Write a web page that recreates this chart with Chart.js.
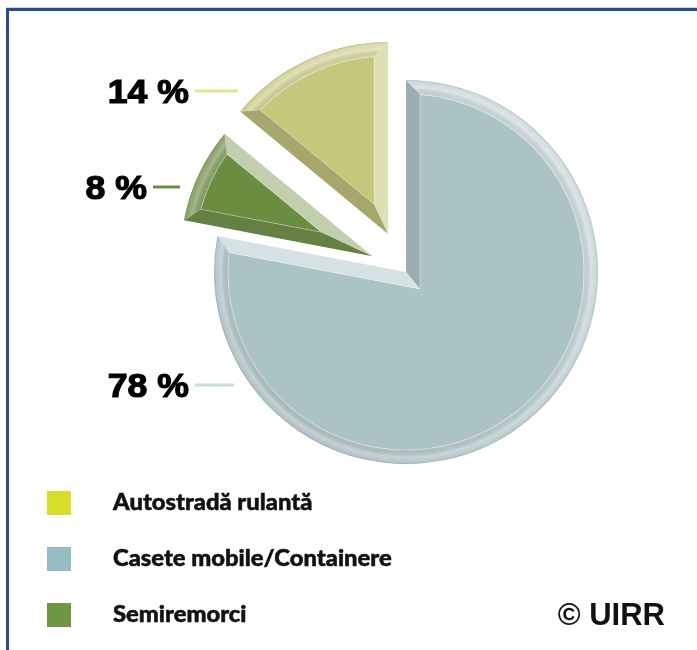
<!DOCTYPE html>
<html lang="ro">
<head>
<meta charset="utf-8">
<title>Transport combinat UIRR</title>
<script src="https://cdn.jsdelivr.net/npm/chart.js@4.4.1/dist/chart.umd.min.js"></script>
<style>
  html, body { margin: 0; padding: 0; background: #fff; }
  body { width: 697px; height: 650px; position: relative; overflow: hidden; }
  .frame {
    position: absolute; left: 6px; top: 8px; width: 740px; height: 700px;
    border: 3px solid #2b4a8f; box-shadow: 0 -1px 0 #d3d7df;
  }
  #pie { position: absolute; left: 0; top: 0; }
</style>
</head>
<body>
<div class="frame"></div>
<canvas id="pie" width="697" height="650"></canvas>
<script>
// date
const labels = ["Autostradă rulantă", "Casete mobile/Containere", "Semiremorci"];
const shares = [14, 78, 8];
const sliceColors = ["#c6c77a", "#abc3c6", "#6b8d40"];
const legendColors = ["#d6dd2b", "#95bcc2", "#6f9545"];
const leaderColors = ["#e6e78c", "#c8dedd", "#6b8d40"];

// unde stau etichetele procentuale (capătul liniei)
const calloutEnd = [[238, 91], [234, 385], [180, 187]];
const calloutLen = [43, 39, 27];

const LIGHT = [0.707, -0.707]; // lumina din dreapta-sus
const BEVEL = 14;

function hexToRgb(hex) {
  const n = parseInt(hex.slice(1), 16);
  return [(n >> 16) & 255, (n >> 8) & 255, n & 255];
}
function mix(c, t, to) {
  return c.map((v, i) => Math.round(v + (to[i] - v) * t));
}
function shade(rgb, nx, ny, lift, up, down) {
  const dot = nx * LIGHT[0] + ny * LIGHT[1];
  let c = mix(rgb, lift, [255, 255, 255]);
  c = dot > 0 ? mix(c, dot * up, [255, 255, 255]) : mix(c, -dot * down, [0, 0, 0]);
  return `rgb(${c.join(",")})`;
}

// felie cu margini teșite
function drawBevelSlice(ctx, cx, cy, r, a1, a2, color) {
  const rgb = hexToRgb(color);
  const b = BEVEL;
  const theta = a2 - a1;
  const mid = (a1 + a2) / 2;
  const d = b / Math.sin(theta / 2);
  const P = [cx + d * Math.cos(mid), cy + d * Math.sin(mid)];
  const ri = r - b;
  const delta = Math.asin(b / ri);
  const I1 = [cx + ri * Math.cos(a1 + delta), cy + ri * Math.sin(a1 + delta)];
  const I2 = [cx + ri * Math.cos(a2 - delta), cy + ri * Math.sin(a2 - delta)];
  const O1 = [cx + r * Math.cos(a1), cy + r * Math.sin(a1)];
  const O2 = [cx + r * Math.cos(a2), cy + r * Math.sin(a2)];

  ctx.save();

  // fața interioară
  ctx.beginPath();
  ctx.moveTo(P[0], P[1]);
  ctx.lineTo(I1[0], I1[1]);
  ctx.arc(cx, cy, ri, a1 + delta, a2 - delta);
  ctx.closePath();
  ctx.fillStyle = color;
  ctx.fill();

  // marginea de start
  const n1 = a1 - Math.PI / 2;
  ctx.beginPath();
  ctx.moveTo(cx, cy);
  ctx.lineTo(O1[0], O1[1]);
  ctx.lineTo(I1[0], I1[1]);
  ctx.lineTo(P[0], P[1]);
  ctx.closePath();
  ctx.fillStyle = shade(rgb, Math.cos(n1), Math.sin(n1), 0.08, 0.55, 0.18);
  ctx.fill();

  // marginea de sfârșit
  const n2 = a2 + Math.PI / 2;
  ctx.beginPath();
  ctx.moveTo(cx, cy);
  ctx.lineTo(P[0], P[1]);
  ctx.lineTo(I2[0], I2[1]);
  ctx.lineTo(O2[0], O2[1]);
  ctx.closePath();
  ctx.fillStyle = shade(rgb, Math.cos(n2), Math.sin(n2), 0.08, 0.55, 0.18);
  ctx.fill();

  // bordura exterioară
  ctx.beginPath();
  ctx.arc(cx, cy, r, a1, a2);
  ctx.lineTo(I2[0], I2[1]);
  ctx.arc(cx, cy, ri, a2 - delta, a1 + delta, true);
  ctx.closePath();
  const conic = ctx.createConicGradient(0, cx, cy);
  for (let k = 0; k <= 36; k++) {
    const phi = (k / 36) * Math.PI * 2;
    conic.addColorStop(k / 36, shade(rgb, Math.cos(phi), Math.sin(phi), 0.24, 0.3, 0.06));
  }
  ctx.fillStyle = conic;
  ctx.fill();
  const radial = ctx.createRadialGradient(cx, cy, ri, cx, cy, r);
  radial.addColorStop(0, "rgba(0,0,0,0.04)");
  radial.addColorStop(0.5, "rgba(255,255,255,0.22)");
  radial.addColorStop(0.8, "rgba(255,255,255,0.02)");
  radial.addColorStop(1, "rgba(0,0,0,0.14)");
  ctx.fillStyle = radial;
  ctx.fill();

  // linia de muchie interioară
  ctx.beginPath();
  ctx.moveTo(P[0], P[1]);
  ctx.lineTo(I1[0], I1[1]);
  ctx.arc(cx, cy, ri, a1 + delta, a2 - delta);
  ctx.closePath();
  ctx.strokeStyle = "rgba(255,255,255,0.3)";
  ctx.lineWidth = 1;
  ctx.stroke();

  ctx.restore();
}

const bevelPlugin = {
  id: "bevel",
  beforeDatasetDraw(chart, args) {
    const ctx = chart.ctx;
    args.meta.data.forEach((arc) => {
      const { x, y, startAngle, endAngle, outerRadius } =
        arc.getProps(["x", "y", "startAngle", "endAngle", "outerRadius"]);
      const off = (arc.options.offset || 0) / 4;
      const mid = (startAngle + endAngle) / 2;
      drawBevelSlice(ctx, x + Math.cos(mid) * off, y + Math.sin(mid) * off,
        outerRadius, startAngle, endAngle, arc.options.backgroundColor);
    });
    return false;
  },
  afterDraw(chart) {
    const ctx = chart.ctx;
    ctx.save();

    // procentele cu liniile lor
    shares.forEach((v, i) => {
      const [ex, ey] = calloutEnd[i];
      const sx = ex - calloutLen[i];
      ctx.strokeStyle = leaderColors[i];
      ctx.lineWidth = 3;
      ctx.beginPath();
      ctx.moveTo(sx, ey);
      ctx.lineTo(ex, ey);
      ctx.stroke();

      ctx.save();
      ctx.translate(sx - 6, ey + 12);
      ctx.scale(1.08, 1);
      ctx.font = "bold 33px 'Liberation Sans', Arial, sans-serif";
      ctx.textAlign = "right";
      ctx.textBaseline = "alphabetic";
      ctx.fillStyle = "#000";
      ctx.strokeStyle = "#000";
      ctx.lineWidth = 1.2;
      ctx.fillText(v + " %", 0, 0);
      ctx.strokeText(v + " %", 0, 0);
      ctx.restore();
    });

    // legenda
    labels.forEach((lab, i) => {
      const top = 491 + i * 56;
      ctx.fillStyle = legendColors[i];
      ctx.fillRect(47, top, 24, 24);
      ctx.save();
      ctx.translate(113, top + 19);
      ctx.scale(1.08, 1);
      ctx.textAlign = "left";
      ctx.textBaseline = "alphabetic";
      ctx.font = "900 22px Lato, 'Liberation Sans', sans-serif";
      ctx.fillStyle = "#111";
      ctx.strokeStyle = "#111";
      ctx.lineWidth = 0.5;
      ctx.fillText(lab, 0, 0);
      ctx.strokeText(lab, 0, 0);
      ctx.restore();
    });

    // sursa
    ctx.textAlign = "right";
    ctx.font = "bold 31px 'Liberation Sans', Arial, sans-serif";
    ctx.fillStyle = "#111";
    ctx.fillText("© UIRR", 665, 625);

    ctx.restore();
  }
};

const total = shares.reduce((a, b) => a + b, 0);

new Chart(document.getElementById("pie"), {
  type: "pie",
  data: {
    labels: labels,
    datasets: [
      {
        data: shares,
        backgroundColor: sliceColors,
        borderWidth: 0,
        offset: [168, 0, 148],
      },
    ],
  },
  options: {
    responsive: false,
    animation: false,
    rotation: -(shares[0] / total) * 360,
    radius: 192,
    layout: { padding: { left: 115, right: 0, top: 0, bottom: 106 } },
    plugins: {
      legend: { display: false },
      tooltip: { enabled: false },
    },
  },
  plugins: [bevelPlugin],
});
</script>
</body>
</html>
